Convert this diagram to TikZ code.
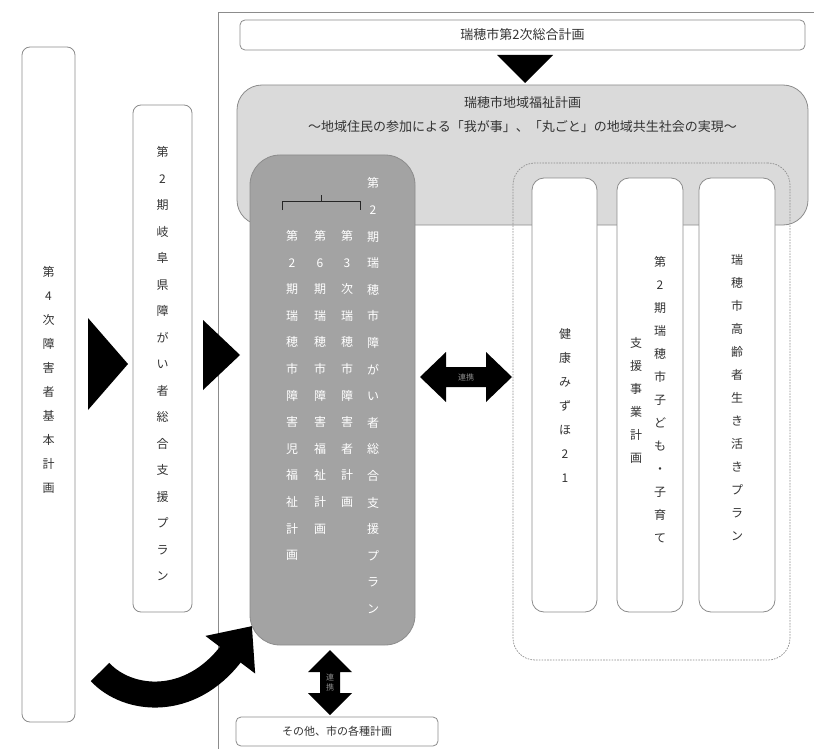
\documentclass[tikz,border=0pt]{standalone}
\usepackage{fontspec}
\setmainfont{Noto Sans CJK JP}
\usetikzlibrary{arrows.meta}
\definecolor{lightg}{HTML}{DADADA}
\definecolor{darkg}{HTML}{A3A3A3}
\definecolor{edgeg}{HTML}{8C8C8C}
\begin{document}
\begin{tikzpicture}[x=1pt,y=-1pt,
  wbox/.style={draw=edgeg, line width=0.8pt, fill=white, rounded corners=8pt, inner sep=0pt},
  vcol/.style={align=center, inner sep=0pt, text=black!80, font=\fontsize{12}{#1}\selectfont},
  vcolw/.style={align=center, inner sep=0pt, text=white, font=\fontsize{12}{26.6}\selectfont},
  htext/.style={inner sep=0pt, text=black!80, font=\fontsize{13}{15}\selectfont},
  blk/.style={fill=black, draw=none},
  lbl/.style={inner sep=0pt, text=black!45, font=\fontsize{8}{10}\selectfont, align=center}
]
\useasboundingbox (0,0) rectangle (814,749);
% outer frame
\draw[edgeg, line width=0.8pt] (218,760) -- (218,12) -- (830,12);
% top box
\node[wbox, rounded corners=5pt, minimum width=565pt, minimum height=30pt] (sogo) at (522.5,35) {};
\node[htext] (sogot) at (sogo.center) {瑞穂市第2次総合計画};
\fill[blk] (497,55) -- (553,55) -- (525,83) -- cycle;
% regional welfare plan
\node[draw=edgeg, line width=0.8pt, fill=lightg, rounded corners=25pt, minimum width=571pt, minimum height=140pt, inner sep=0pt] (chiiki) at (522.5,155) {};
\node[htext] (chiikit) at (522.5,103) {瑞穂市地域福祉計画};
\node[htext] (chiikis) at (522.5,127) {～地域住民の参加による「我が事」、「丸ごと」の地域共生社会の実現～};
% dashed group
\node[draw=edgeg, line width=0.7pt, dash pattern=on 1.6pt off 1.2pt, rounded corners=22pt, minimum width=277pt, minimum height=497pt, inner sep=0pt] (grp) at (651.5,411.5) {};
% main plan box
\node[draw=edgeg, line width=0.8pt, fill=darkg, rounded corners=30pt, minimum width=165pt, minimum height=490pt, inner sep=0pt] (plan) at (332.5,400) {};
\draw[black!85, line width=0.8pt] (282,210) -- (282,201) -- (360,201) -- (360,210) (321,201) -- (321,195);
\node[vcolw] (p1) at (292,395.5) {第\\2\\期\\瑞\\穂\\市\\障\\害\\児\\福\\祉\\計\\画};
\node[vcolw] (p2) at (320,382.3) {第\\6\\期\\瑞\\穂\\市\\障\\害\\福\\祉\\計\\画};
\node[vcolw] (p3) at (347,369) {第\\3\\次\\瑞\\穂\\市\\障\\害\\者\\計\\画};
\node[vcolw] (p4) at (373,395.8) {第\\2\\期\\瑞\\穂\\市\\障\\が\\い\\者\\総\\合\\支\\援\\プ\\ラ\\ン};
% related plans
\node[wbox, rounded corners=12pt, minimum width=65pt, minimum height=434pt] (b1) at (564.5,395) {};
\node[wbox, rounded corners=12pt, minimum width=66pt, minimum height=434pt] (b2) at (650,395) {};
\node[wbox, rounded corners=12pt, minimum width=76pt, minimum height=434pt] (b3) at (737,395) {};
\node[vcol=24] (b1t) at (565,405) {健\\康\\み\\ず\\ほ\\2\\1};
\node[vcol=23] (b2t) at (660,400) {第\\2\\期\\瑞\\穂\\市\\子\\ど\\も\\・\\子\\育\\て};
\node[vcol=23] (b2u) at (636,400) {支\\援\\事\\業\\計\\画};
\node[vcol=23] (b3t) at (737,398) {瑞\\穂\\市\\高\\齢\\者\\生\\き\\活\\き\\プ\\ラ\\ン};
% national and prefectural plans
\node[wbox, minimum width=53pt, minimum height=675pt] (kuni) at (48.5,384.5) {};
\node[vcol=24] (kunit) at (48.5,380) {第\\4\\次\\障\\害\\者\\基\\本\\計\\画};
\node[wbox, minimum width=59pt, minimum height=507pt] (ken) at (162.5,358.5) {};
\node[vcol=26.5] (kent) at (162.5,364) {第\\2\\期\\岐\\阜\\県\\障\\が\\い\\者\\総\\合\\支\\援\\プ\\ラ\\ン};
\fill[blk] (88,318) -- (128,364) -- (88,410) -- cycle;
\fill[blk] (203,320) -- (240,355) -- (203,390) -- cycle;
% horizontal double arrow
\fill[blk] (420,377) -- (446,352) -- (446,367) -- (486,367) -- (486,352) -- (512,377) -- (486,402) -- (486,387) -- (446,387) -- (446,402) -- cycle;
\node[lbl] (rk1) at (466,377) {連携};
% other plans
\node[wbox, rounded corners=5pt, minimum width=202pt, minimum height=29pt] (other) at (337,731.5) {};
\node[htext, font=\fontsize{11}{13}\selectfont] (othert) at (other.center) {その他、市の各種計画};
\fill[blk] (330,650) -- (352,672) -- (340,672) -- (340,693) -- (352,693) -- (330,715) -- (308,693) -- (320,693) -- (320,672) -- (308,672) -- cycle;
\node[lbl] (rk2) at (330,682.5) {連\\携};
% curved arrow
\draw[line width=26pt, -{Triangle[length=36pt,width=60pt]}] (100,672) .. controls (128,702) and (190,708) .. (252,626);
\end{tikzpicture}
\end{document}
